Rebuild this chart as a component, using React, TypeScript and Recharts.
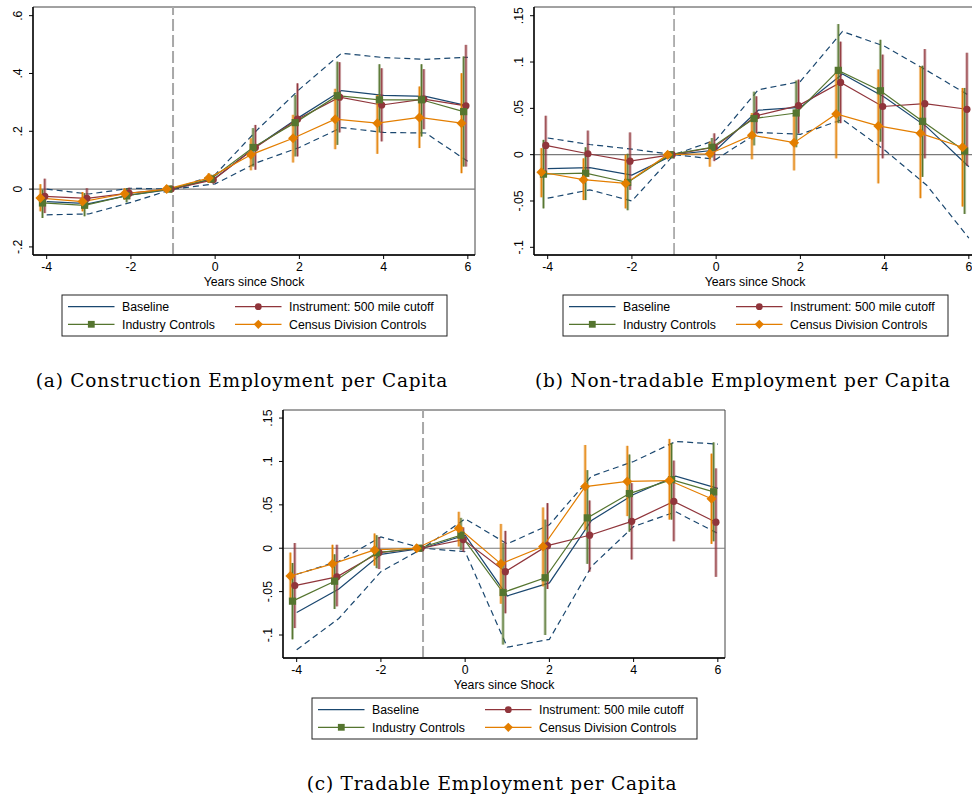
import React from 'react';
import { ComposedChart, Line, XAxis, YAxis, ReferenceLine, ReferenceArea, ErrorBar } from 'recharts';

// ---------- data ----------
const years = [-4, -3, -2, -1, 0, 1, 2, 3, 4, 5, 6];
const xTicks = [-4, -2, 0, 2, 4, 6];
const xTickLabels = ['-4', '-2', '0', '2', '4', '6'];
const xAxisTitle = 'Years since Shock';
const seriesNames = ['Baseline', 'Instrument: 500 mile cutoff', 'Industry Controls', 'Census Division Controls'];

const aYTicks = [-0.2, 0, 0.2, 0.4, 0.6];
const aYTickLabels = ['-.2', '0', '.2', '.4', '.6'];
const bYTicks = [-0.1, -0.05, 0, 0.05, 0.1, 0.15];
const bYTickLabels = ['-.1', '-.05', '0', '.05', '.1', '.15'];
const cYTicks = [-0.1, -0.05, 0, 0.05, 0.1, 0.15];
const cYTickLabels = ['-.1', '-.05', '0', '.05', '.1', '.15'];

const captionA = '(a) Construction Employment per Capita';
const captionB = '(b) Non-tradable Employment per Capita';
const captionC = '(c) Tradable Employment per Capita';

// Panel A: Construction
const aBase = [-0.043, -0.050, -0.020, 0, 0.038, 0.150, 0.249, 0.341, 0.324, 0.321, 0.288];
const aBaseLo = [-0.089, -0.086, -0.046, 0, 0.018, 0.092, 0.144, 0.213, 0.196, 0.194, 0.096];
const aBaseHi = [0.000, -0.017, 0.003, 0, 0.050, 0.205, 0.345, 0.470, 0.455, 0.449, 0.456];
const aInst = [-0.025, -0.032, -0.014, 0, 0.032, 0.144, 0.242, 0.318, 0.291, 0.311, 0.288];
const aInstLo = [-0.083, -0.060, -0.035, 0, 0.020, 0.067, 0.113, 0.196, 0.165, 0.207, 0.078];
const aInstHi = [0.036, 0.003, 0.005, 0, 0.045, 0.222, 0.366, 0.439, 0.418, 0.415, 0.499];
const aInd = [-0.048, -0.056, -0.023, 0, 0.035, 0.144, 0.230, 0.323, 0.309, 0.309, 0.268];
const aIndLo = [-0.100, -0.094, -0.046, 0, 0.021, 0.078, 0.113, 0.153, 0.196, 0.182, 0.078];
const aIndHi = [-0.002, -0.014, 0.003, 0, 0.050, 0.211, 0.326, 0.441, 0.432, 0.432, 0.459];
const aCen = [-0.031, -0.043, -0.016, 0, 0.038, 0.119, 0.176, 0.242, 0.228, 0.248, 0.228];
const aCenLo = [-0.077, -0.077, -0.037, 0, 0.021, 0.065, 0.092, 0.138, 0.122, 0.142, 0.055];
const aCenHi = [0.017, -0.010, 0.003, 0, 0.055, 0.176, 0.257, 0.347, 0.326, 0.355, 0.401];

// Panel B: Non-tradable
const bBase = [-0.015, -0.014, -0.022, 0, 0.005, 0.048, 0.051, 0.087, 0.062, 0.030, -0.013];
const bBaseLo = [-0.047, -0.038, -0.050, 0, -0.005, 0.024, 0.022, 0.038, 0.005, -0.033, -0.090];
const bBaseHi = [0.018, 0.011, 0.006, 0, 0.016, 0.070, 0.079, 0.133, 0.117, 0.091, 0.064];
const bInst = [0.010, 0.001, -0.007, 0, 0.008, 0.042, 0.053, 0.078, 0.052, 0.055, 0.049];
const bInstLo = [-0.022, -0.024, -0.038, 0, -0.007, 0.023, 0.023, 0.034, -0.004, -0.004, -0.012];
const bInstHi = [0.042, 0.026, 0.024, 0, 0.023, 0.063, 0.081, 0.122, 0.108, 0.114, 0.110];
const bInd = [-0.021, -0.020, -0.030, 0, 0.008, 0.039, 0.045, 0.091, 0.069, 0.036, 0.004];
const bIndLo = [-0.058, -0.049, -0.060, 0, -0.003, 0.010, 0.008, 0.034, 0.014, -0.024, -0.064];
const bIndHi = [0.016, 0.008, 0.001, 0, 0.018, 0.068, 0.080, 0.141, 0.124, 0.096, 0.072];
const bCen = [-0.019, -0.027, -0.031, 0, 0.001, 0.021, 0.013, 0.044, 0.031, 0.023, 0.008];
const bCenLo = [-0.046, -0.049, -0.058, 0, -0.013, -0.005, -0.017, -0.004, -0.031, -0.047, -0.056];
const bCenHi = [0.007, -0.004, 0.000, 0, 0.014, 0.045, 0.042, 0.089, 0.092, 0.095, 0.072];

// Panel C: Tradable
const cBase = [-0.074, -0.047, -0.007, 0, 0.015, -0.055, -0.040, 0.032, 0.062, 0.083, 0.069];
const cBaseLo = [-0.117, -0.081, -0.027, 0, -0.004, -0.114, -0.105, -0.021, 0.025, 0.042, 0.017];
const cBaseHi = [-0.030, -0.015, 0.013, 0, 0.034, 0.005, 0.027, 0.083, 0.100, 0.123, 0.120];
const cInst = [-0.043, -0.033, -0.005, 0, 0.010, -0.027, 0.003, 0.015, 0.031, 0.054, 0.030];
const cInstLo = [-0.092, -0.067, -0.024, 0, -0.004, -0.075, -0.047, -0.027, -0.013, 0.008, -0.033];
const cInstHi = [0.006, 0.004, 0.013, 0, 0.024, 0.020, 0.052, 0.055, 0.075, 0.101, 0.092];
const cInd = [-0.061, -0.038, -0.005, 0, 0.015, -0.051, -0.034, 0.035, 0.063, 0.079, 0.065];
const cIndLo = [-0.105, -0.070, -0.023, 0, -0.002, -0.111, -0.100, -0.018, 0.019, 0.033, 0.008];
const cIndHi = [-0.017, -0.007, 0.015, 0, 0.035, 0.006, 0.033, 0.090, 0.108, 0.121, 0.122];
const cCen = [-0.032, -0.018, -0.002, 0, 0.023, -0.018, 0.002, 0.071, 0.077, 0.078, 0.057];
const cCenLo = [-0.060, -0.038, -0.020, 0, 0.002, -0.064, -0.044, 0.021, 0.037, 0.033, 0.005];
const cCenHi = [-0.005, 0.004, 0.017, 0, 0.042, 0.028, 0.047, 0.119, 0.118, 0.126, 0.109];

// ---------- styles ----------
const NAVY = '#1a476f';
const MAROON = '#90353b';
const GREEN = '#55752f';
const ORANGE = '#e37e00';
const SANS = '"Liberation Sans", Arial, Helvetica, sans-serif';
const SERIF = '"DejaVu Serif", "Liberation Serif", serif';
const FS = 12.3;
const X_DOMAIN: [number, number] = [-4.325, 6.17];
const OFF_INST = -0.045;
const OFF_IND = -0.1;
const OFF_CEN = -0.15;

type Pt = { x: number; y: number; err: number[] };

function pts(vals: number[], lo: number[], hi: number[], off: number): Pt[] {
  return years.map((yr, i) => ({ x: yr + off, y: vals[i], err: [vals[i] - lo[i], hi[i] - vals[i]] }));
}
function line(vals: number[]): { x: number; y: number }[] {
  return years.map((yr, i) => ({ x: yr, y: vals[i] }));
}

const Circle = (p: any) => {
  if (p.cx == null || p.cy == null) return <g key={p.key} />;
  return <circle key={p.key} cx={p.cx} cy={p.cy} r={3.6} fill={MAROON} stroke="none" />;
};
const Square = (p: any) => {
  if (p.cx == null || p.cy == null) return <g key={p.key} />;
  return <rect key={p.key} x={p.cx - 3.6} y={p.cy - 3.6} width={7.2} height={7.2} fill={GREEN} stroke="none" />;
};
const Diamond = (p: any) => {
  if (p.cx == null || p.cy == null) return <g key={p.key} />;
  const r = 5;
  return (
    <path key={p.key} d={`M${p.cx},${p.cy - r}L${p.cx + r},${p.cy}L${p.cx},${p.cy + r}L${p.cx - r},${p.cy}Z`} fill={ORANGE} stroke="none" />
  );
};

type PanelCfg = {
  left: number;
  top: number;
  yDomain: [number, number];
  yTicks: number[];
  yTickLabels: string[];
  base: number[]; baseLo: number[]; baseHi: number[];
  inst: number[]; instLo: number[]; instHi: number[];
  ind: number[]; indLo: number[]; indHi: number[];
  cen: number[]; cenLo: number[]; cenHi: number[];
  caption: string;
  shockStroke: string;
  shockWidth: number;
  shockDash: string;
};

function Panel({ cfg }: { cfg: PanelCfg }) {
  const instPts = pts(cfg.inst, cfg.instLo, cfg.instHi, OFF_INST);
  const indPts = pts(cfg.ind, cfg.indLo, cfg.indHi, OFF_IND);
  const cenPts = pts(cfg.cen, cfg.cenLo, cfg.cenHi, OFF_CEN);

  const YTick = (p: any) => {
    const idx = cfg.yTicks.findIndex((t) => Math.abs(t - p.payload.value) < 1e-9);
    const bx = p.x - 5.3;
    return (
      <text x={bx} y={p.y} transform={`rotate(-90 ${bx} ${p.y})`} textAnchor="middle" fontSize={FS} fontFamily={SANS} fill="#000">
        {idx >= 0 ? cfg.yTickLabels[idx] : ''}
      </text>
    );
  };
  const XTick = (p: any) => {
    const idx = xTicks.findIndex((t) => Math.abs(t - p.payload.value) < 1e-9);
    return (
      <text x={p.x} y={p.y + 10} textAnchor="middle" fontSize={FS} fontFamily={SANS} fill="#000">
        {idx >= 0 ? xTickLabels[idx] : ''}
      </text>
    );
  };

  const legendRows = [
    { name: seriesNames[0], color: NAVY, marker: null as any, x: 68, y: 26.7 },
    { name: seriesNames[1], color: MAROON, marker: 'circle', x: 235, y: 26.7 },
    { name: seriesNames[2], color: GREEN, marker: 'square', x: 68, y: 44.3 },
    { name: seriesNames[3], color: ORANGE, marker: 'diamond', x: 235, y: 44.3 },
  ];

  return (
    <div style={{ position: 'absolute', left: cfg.left, top: cfg.top, width: 490, height: 400 }}>
      <ComposedChart width={490} height={300} margin={{ top: 7, right: 15, bottom: 13, left: 8 }}>
        <XAxis
          type="number"
          dataKey="x"
          domain={X_DOMAIN}
          ticks={xTicks}
          allowDataOverflow
          interval={0}
          tickSize={4}
          tick={<XTick />}
          height={32}
          axisLine={{ stroke: '#000', strokeWidth: 1.4 }}
          tickLine={{ stroke: '#000' }}
          label={{ value: xAxisTitle, position: 'insideBottom', offset: 1.5, fontSize: FS, fontFamily: SANS, fill: '#000' }}
        />
        <YAxis
          type="number"
          dataKey="y"
          domain={cfg.yDomain}
          ticks={cfg.yTicks}
          allowDataOverflow
          interval={0}
          width={25}
          tickSize={4}
          tick={<YTick />}
          axisLine={{ stroke: '#000', strokeWidth: 1.4 }}
          tickLine={{ stroke: '#000' }}
        />
        <ReferenceArea x1={X_DOMAIN[0]} x2={X_DOMAIN[1]} y1={cfg.yDomain[0]} y2={cfg.yDomain[1]} fill="none" fillOpacity={0} stroke="#444" strokeWidth={1} ifOverflow="extendDomain" />
        <ReferenceLine y={0} stroke="#7a7a7a" strokeWidth={1.1} />
        <ReferenceLine x={-1} stroke={cfg.shockStroke} strokeWidth={cfg.shockWidth} strokeDasharray={cfg.shockDash} />

        <Line data={line(cfg.baseLo)} dataKey="y" stroke={NAVY} strokeWidth={1.2} strokeDasharray="6 4" dot={false} isAnimationActive={false} legendType="none" />
        <Line data={line(cfg.baseHi)} dataKey="y" stroke={NAVY} strokeWidth={1.2} strokeDasharray="6 4" dot={false} isAnimationActive={false} legendType="none" />
        <Line data={line(cfg.base)} dataKey="y" stroke={NAVY} strokeWidth={1.2} dot={false} isAnimationActive={false} />

        <Line data={instPts} dataKey="y" stroke={MAROON} strokeWidth={1.2} dot={<Circle />} isAnimationActive={false}>
          <ErrorBar dataKey="err" direction="y" width={0} stroke={MAROON} strokeOpacity={0.45} strokeWidth={3} isAnimationActive={false} />
          <ErrorBar dataKey="err" direction="y" width={0} stroke={MAROON} strokeWidth={1} isAnimationActive={false} />
        </Line>
        <Line data={indPts} dataKey="y" stroke={GREEN} strokeWidth={1.2} dot={<Square />} isAnimationActive={false}>
          <ErrorBar dataKey="err" direction="y" width={0} stroke={GREEN} strokeOpacity={0.45} strokeWidth={3} isAnimationActive={false} />
          <ErrorBar dataKey="err" direction="y" width={0} stroke={GREEN} strokeWidth={1} isAnimationActive={false} />
        </Line>
        <Line data={cenPts} dataKey="y" stroke={ORANGE} strokeWidth={1.2} dot={<Diamond />} isAnimationActive={false}>
          <ErrorBar dataKey="err" direction="y" width={0} stroke={ORANGE} strokeOpacity={0.45} strokeWidth={3} isAnimationActive={false} />
          <ErrorBar dataKey="err" direction="y" width={0} stroke={ORANGE} strokeWidth={1} isAnimationActive={false} />
        </Line>
      </ComposedChart>

      <svg width={490} height={120} style={{ position: 'absolute', left: 0, top: 280 }}>
        <rect x={62} y={15} width={385} height={41} fill="#fff" stroke="#222" strokeWidth={1} />
        {legendRows.map((r) => (
          <g key={r.name}>
            <line x1={r.x} y1={r.y} x2={r.x + 46.5} y2={r.y} stroke={r.color} strokeWidth={1.2} />
            {r.marker === 'circle' && <circle cx={r.x + 23.3} cy={r.y} r={3.4} fill={r.color} />}
            {r.marker === 'square' && <rect x={r.x + 23.3 - 3.4} y={r.y - 3.4} width={6.8} height={6.8} fill={r.color} />}
            {r.marker === 'diamond' && (
              <path d={`M${r.x + 23.3},${r.y - 4.6}L${r.x + 27.9},${r.y}L${r.x + 23.3},${r.y + 4.6}L${r.x + 18.7},${r.y}Z`} fill={r.color} />
            )}
            <text x={r.x + 54} y={r.y + 4.3} fontSize={FS} fontFamily={SANS} fill="#000">
              {r.name}
            </text>
          </g>
        ))}
        <text x={242} y={107} textAnchor="middle" fontSize={18.5} letterSpacing={0.8} fontFamily={SERIF} fill="#000">
          {cfg.caption}
        </text>
      </svg>
    </div>
  );
}

const panelA: PanelCfg = {
  left: 0, top: 0, yDomain: [-0.228, 0.63], yTicks: aYTicks, yTickLabels: aYTickLabels,
  base: aBase, baseLo: aBaseLo, baseHi: aBaseHi,
  inst: aInst, instLo: aInstLo, instHi: aInstHi,
  ind: aInd, indLo: aIndLo, indHi: aIndHi,
  cen: aCen, cenLo: aCenLo, cenHi: aCenHi,
  caption: captionA, shockStroke: '#a8a8a8', shockWidth: 2, shockDash: '12 4',
};
const panelB: PanelCfg = {
  left: 501, top: 0, yDomain: [-0.1083, 0.1594], yTicks: bYTicks, yTickLabels: bYTickLabels,
  base: bBase, baseLo: bBaseLo, baseHi: bBaseHi,
  inst: bInst, instLo: bInstLo, instHi: bInstHi,
  ind: bInd, indLo: bIndLo, indHi: bIndHi,
  cen: bCen, cenLo: bCenLo, cenHi: bCenHi,
  caption: captionB, shockStroke: '#666', shockWidth: 1, shockDash: '12 4',
};
const panelC: PanelCfg = {
  left: 250, top: 403, yDomain: [-0.1265, 0.1593], yTicks: cYTicks, yTickLabels: cYTickLabels,
  base: cBase, baseLo: cBaseLo, baseHi: cBaseHi,
  inst: cInst, instLo: cInstLo, instHi: cInstHi,
  ind: cInd, indLo: cIndLo, indHi: cIndHi,
  cen: cCen, cenLo: cCenLo, cenHi: cCenHi,
  caption: captionC, shockStroke: '#a8a8a8', shockWidth: 2, shockDash: '12 4',
};

export default function App() {
  return (
    <div style={{ position: 'absolute', left: 0, top: 0, width: 972, height: 798, overflow: 'hidden', background: '#fff' }}>
      <Panel cfg={panelA} />
      <Panel cfg={panelB} />
      <Panel cfg={panelC} />
    </div>
  );
}
